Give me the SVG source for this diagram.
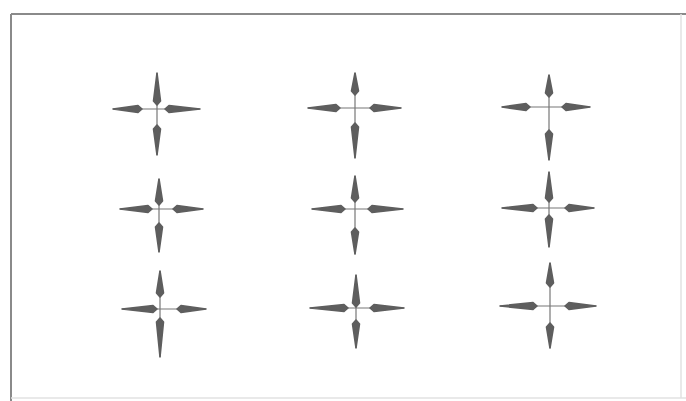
<svg xmlns="http://www.w3.org/2000/svg" width="686" height="401" viewBox="0 0 686 401">
<style>
.frame{fill:none;stroke:#8a8a8a;stroke-width:2}
.faint{fill:none;stroke:#e2e2e2;stroke-width:1.5}
.axis{stroke:#777;stroke-width:1.2;fill:none}
.head{fill:#5e5e5e;stroke:#5e5e5e;stroke-width:1.6;stroke-linejoin:round}
</style>
<rect width="686" height="401" fill="#ffffff"/>
<g id="frame">
<path class="frame" d="M11,14 H686 M11,14 V401"/>
<path class="faint" d="M11,398 H686 M681,14 V398"/>
</g>
<g id="connectors"></g>
<g id="cross1">
<path class="axis" d="M113,109 H200 M157,73 V155"/>
<polygon class="head" points="142,109 138,105.5 113,109 138,112.5"/>
<polygon class="head" points="165,109 169,105.5 200,109 169,112.5"/>
<polygon class="head" points="157,105 153.5,101 157,73 160.5,101"/>
<polygon class="head" points="157,125 153.5,129 157,155 160.5,129"/>
</g>
<g id="cross2">
<path class="axis" d="M308,108 H401 M355,73 V158"/>
<polygon class="head" points="340,108 336,104.5 308,108 336,111.5"/>
<polygon class="head" points="370,108 374,104.5 401,108 374,111.5"/>
<polygon class="head" points="355,95 351.5,91 355,73 358.5,91"/>
<polygon class="head" points="355,123 351.5,127 355,158 358.5,127"/>
</g>
<g id="cross3">
<path class="axis" d="M502,107 H590 M549,75 V160"/>
<polygon class="head" points="530,107 526,103.5 502,107 526,110.5"/>
<polygon class="head" points="562,107 566,103.5 590,107 566,110.5"/>
<polygon class="head" points="549,97 545.5,93 549,75 552.5,93"/>
<polygon class="head" points="549,130 545.5,134 549,160 552.5,134"/>
</g>
<g id="cross4">
<path class="axis" d="M120,209 H203 M159,179 V252"/>
<polygon class="head" points="152,209 148,205.5 120,209 148,212.5"/>
<polygon class="head" points="173,209 177,205.5 203,209 177,212.5"/>
<polygon class="head" points="159,205 155.5,201 159,179 162.5,201"/>
<polygon class="head" points="159,223 155.5,227 159,252 162.5,227"/>
</g>
<g id="cross5">
<path class="axis" d="M312,209 H403 M355,176 V254"/>
<polygon class="head" points="345,209 341,205.5 312,209 341,212.5"/>
<polygon class="head" points="368,209 372,205.5 403,209 372,212.5"/>
<polygon class="head" points="355,202 351.5,198 355,176 358.5,198"/>
<polygon class="head" points="355,228 351.5,232 355,254 358.5,232"/>
</g>
<g id="cross6">
<path class="axis" d="M502,208 H594 M549,172 V247"/>
<polygon class="head" points="537,208 533,204.5 502,208 533,211.5"/>
<polygon class="head" points="565,208 569,204.5 594,208 569,211.5"/>
<polygon class="head" points="549,202 545.5,198 549,172 552.5,198"/>
<polygon class="head" points="549,215 545.5,219 549,247 552.5,219"/>
</g>
<g id="cross7">
<path class="axis" d="M122,309 H206 M160,271 V357"/>
<polygon class="head" points="157,309 153,305.5 122,309 153,312.5"/>
<polygon class="head" points="177,309 181,305.5 206,309 181,312.5"/>
<polygon class="head" points="160,297 156.5,293 160,271 163.5,293"/>
<polygon class="head" points="160,318 156.5,322 160,357 163.5,322"/>
</g>
<g id="cross8">
<path class="axis" d="M310,308 H404 M356,275 V348"/>
<polygon class="head" points="348,308 344,304.5 310,308 344,311.5"/>
<polygon class="head" points="370,308 374,304.5 404,308 374,311.5"/>
<polygon class="head" points="356,307 352.5,303 356,275 359.5,303"/>
<polygon class="head" points="356,320 352.5,324 356,348 359.5,324"/>
</g>
<g id="cross9">
<path class="axis" d="M500,306 H596 M550,263 V348"/>
<polygon class="head" points="537,306 533,302.5 500,306 533,309.5"/>
<polygon class="head" points="565,306 569,302.5 596,306 569,309.5"/>
<polygon class="head" points="550,287 546.5,283 550,263 553.5,283"/>
<polygon class="head" points="550,323 546.5,327 550,348 553.5,327"/>
</g>
</svg>
